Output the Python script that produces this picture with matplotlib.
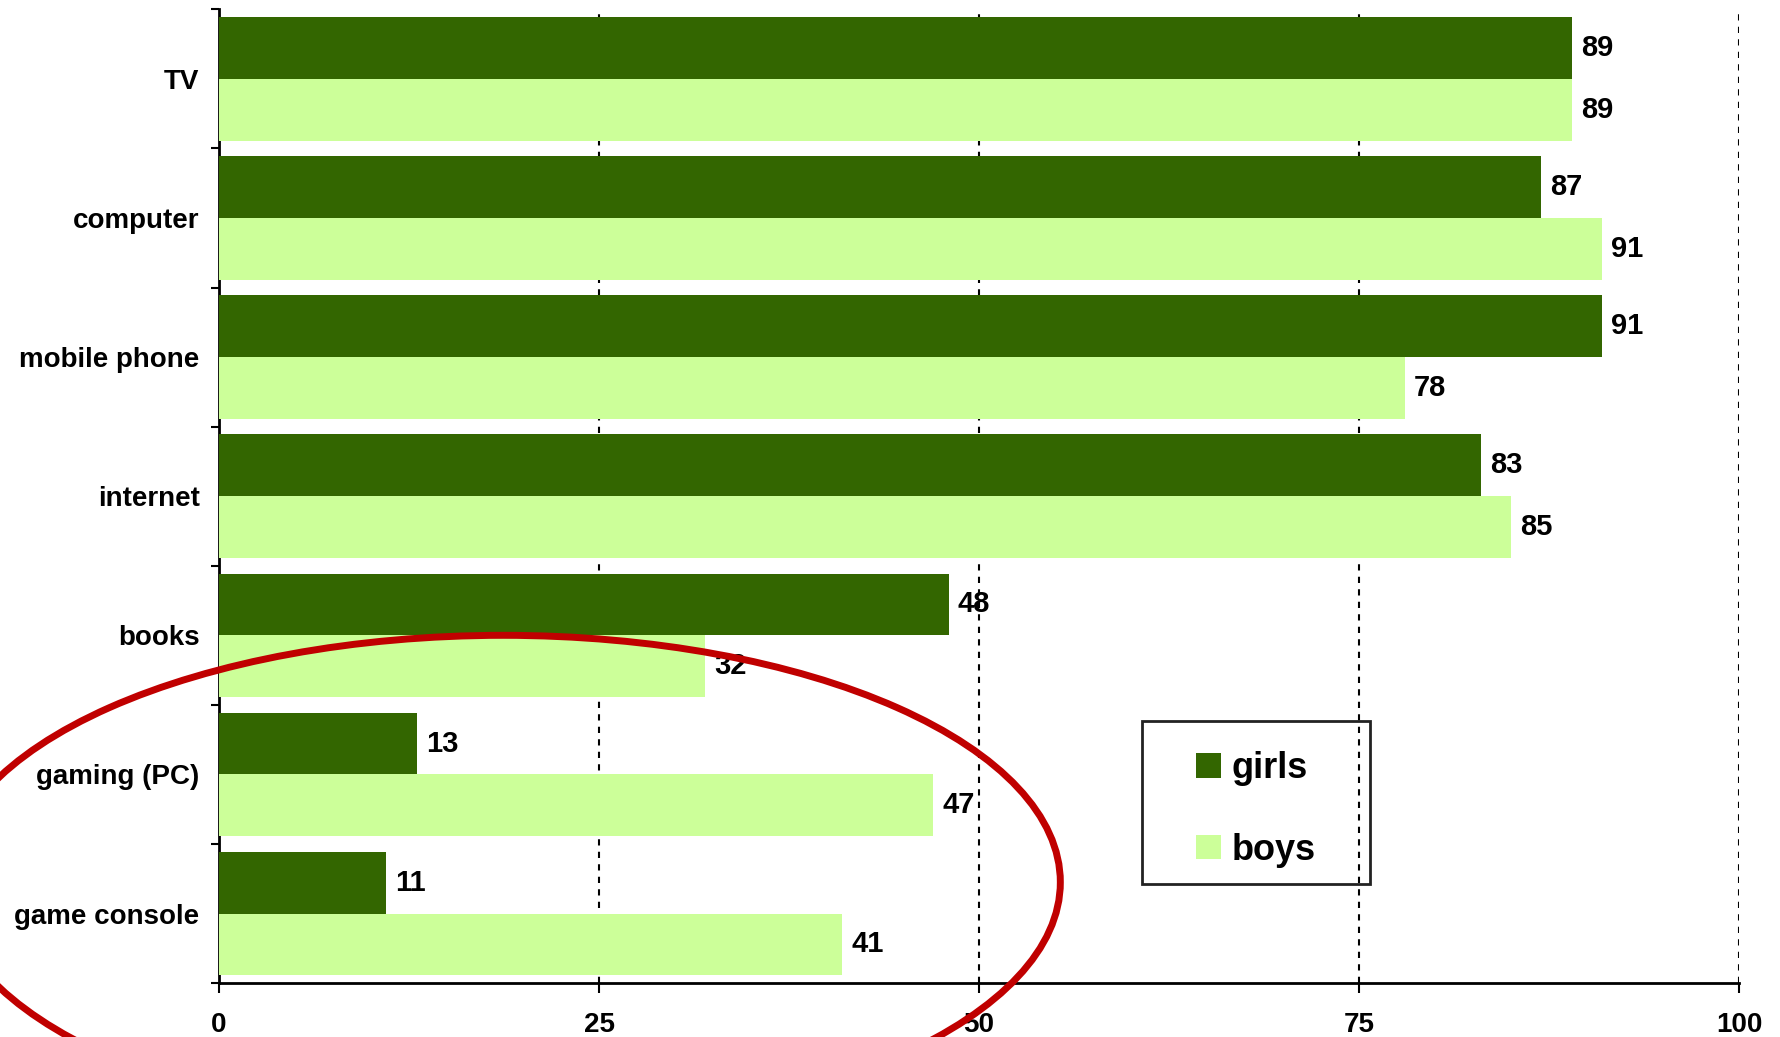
import numpy as np
import matplotlib
matplotlib.use("Agg")
import matplotlib.pyplot as plt
from matplotlib.patches import Ellipse, Rectangle

# data
categories = ["TV", "computer", "mobile phone", "internet", "books",
              "gaming (PC)", "game console"]
girls = [89, 87, 91, 83, 48, 13, 11]
boys = [89, 91, 78, 85, 32, 47, 41]
xticks = [0, 25, 50, 75, 100]

dark = "#336600"
light = "#CCFF99"

plt.rcParams["font.family"] = ["Liberation Sans", "DejaVu Sans"]
plt.rcParams["font.weight"] = "bold"

fig = plt.figure(figsize=(17.81, 10.37), dpi=100)
ax = fig.add_axes([0.123, 0.052, 0.8534, 0.939])

y = np.arange(len(categories))
h = 0.444
ax.barh(y - h / 2, girls, height=h, color=dark, label="girls", zorder=3)
ax.barh(y + h / 2, boys, height=h, color=light, label="boys", zorder=3)

# value labels
for yi, g, b in zip(y, girls, boys):
    ax.text(g + 0.6, yi - h / 2, str(g), va="center", ha="left",
            fontsize=21, fontweight="bold", zorder=4)
    ax.text(b + 0.6, yi + h / 2, str(b), va="center", ha="left",
            fontsize=21, fontweight="bold", zorder=4)

ax.set_xlim(0, 100)
ax.set_ylim(len(categories) - 0.5, -0.5)
ax.set_xticks(xticks)
ax.set_xticklabels([str(t) for t in xticks], fontsize=20, fontweight="bold")

# category labels centred, ticks at the boundaries
ax.set_yticks(np.arange(len(categories) + 1) - 0.5)
ax.set_yticklabels([])
ax.set_yticks(y, minor=True)
ax.set_yticklabels(categories, minor=True, fontsize=20, fontweight="bold")
ax.tick_params(axis="y", which="minor", length=0, pad=14)
ax.tick_params(axis="y", which="major", length=6, width=1.5, direction="out")
ax.tick_params(axis="x", length=7, width=1.5, direction="out", pad=14)

ax.xaxis.grid(True, linestyle=(0, (3, 3)), color="black", linewidth=1.5, zorder=0)
ax.set_axisbelow(True)
for s in ["top", "right"]:
    ax.spines[s].set_visible(False)
for s in ["left", "bottom"]:
    ax.spines[s].set_linewidth(2)

# red highlight ellipse around the gaming rows
ell = Ellipse((18.7, 5.775), 73.3, 3.55, fill=False, edgecolor="#C00000",
              linewidth=5, clip_on=False, zorder=5)
ax.add_patch(ell)

# legend with a hand drawn frame
leg = ax.legend(loc="center", bbox_to_anchor=(0.7052, 0.2195),
                bbox_transform=fig.transFigure, frameon=False,
                prop={"size": 26, "weight": "bold"},
                handlelength=0.67, handleheight=0.67, handletextpad=0.3,
                labelspacing=1.3)
fig.patches.append(Rectangle((1142 / 1781, 1 - 884 / 1037), 228 / 1781, 163 / 1037,
                             transform=fig.transFigure, fill=False,
                             edgecolor="#222222", linewidth=2, zorder=6))

fig.savefig("out.png", dpi=100)
